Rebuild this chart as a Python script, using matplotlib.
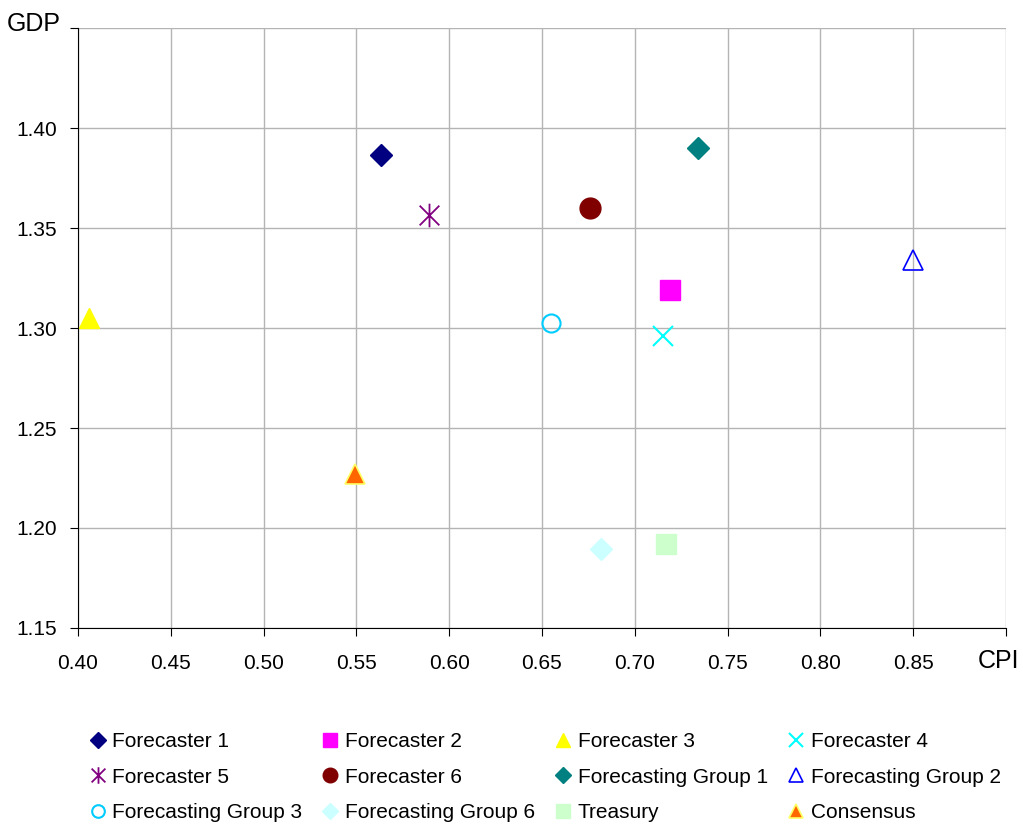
import matplotlib
matplotlib.use("Agg")
import matplotlib.pyplot as plt
from matplotlib.path import Path

plt.rcParams['font.family'] = ['Liberation Sans', 'DejaVu Sans']

names = ["Forecaster 1", "Forecaster 2", "Forecaster 3", "Forecaster 4",
         "Forecaster 5", "Forecaster 6", "Forecasting Group 1", "Forecasting Group 2",
         "Forecasting Group 3", "Forecasting Group 6", "Treasury", "Consensus"]
cpi = [0.563, 0.719, 0.406, 0.715, 0.589, 0.676, 0.734, 0.850, 0.655, 0.682, 0.717, 0.549]
gdp = [1.3865, 1.319, 1.305, 1.296, 1.3565, 1.360, 1.390, 1.334, 1.3025, 1.1895, 1.192, 1.227]

x_ticks = [0.40, 0.45, 0.50, 0.55, 0.60, 0.65, 0.70, 0.75, 0.80, 0.85, 0.90]
x_labels = ["0.40", "0.45", "0.50", "0.55", "0.60", "0.65", "0.70", "0.75", "0.80", "0.85", ""]
y_ticks = [1.15, 1.20, 1.25, 1.30, 1.35, 1.40, 1.45]
y_labels = ["1.15", "1.20", "1.25", "1.30", "1.35", "1.40", ""]
x_name = "CPI"
y_name = "GDP"

# asterisk: X plus vertical bar
star = Path([(-1, -1), (1, 1), (-1, 1), (1, -1), (0, -1.2), (0, 1.2)],
            [Path.MOVETO, Path.LINETO, Path.MOVETO, Path.LINETO, Path.MOVETO, Path.LINETO])

styles = [
    dict(marker='D', ms=11, mfc='#000080', mec='#000080'),
    dict(marker='s', ms=14, mfc='#FF00FF', mec='#FF00FF'),
    dict(marker='^', ms=15, mfc='#FFFF00', mec='#FFFF00'),
    dict(marker='x', ms=15, mfc='#00FFFF', mec='#00FFFF', mew=1.5),
    dict(marker=star, ms=17, mfc='none', mec='#800080', mew=1.3),
    dict(marker='o', ms=15, mfc='#800000', mec='#800000'),
    dict(marker='D', ms=11, mfc='#008080', mec='#008080'),
    dict(marker='^', ms=15, mfc='none', mec='#0000FF', mew=1.2),
    dict(marker='o', ms=13, mfc='none', mec='#00CCFF', mew=1.5),
    dict(marker='D', ms=11, mfc='#CCFFFF', mec='#CCFFFF'),
    dict(marker='s', ms=14, mfc='#CCFFCC', mec='#CCFFCC'),
    dict(marker='^', ms=14, mfc='#FF6600', mec='#FFFF66', mew=1.2),
]

fig = plt.figure(figsize=(10.23, 8.25), dpi=100)
ax = fig.add_axes([0.0762, 0.2388, 0.9072, 0.7272])

handles = []
for n, x, y, st in zip(names, cpi, gdp, styles):
    h, = ax.plot([x], [y], linestyle='none', label=n, clip_on=False, **st)
    handles.append(h)

ax.set_xlim(0.40, 0.90)
ax.set_ylim(1.15, 1.45)
ax.set_xticks(x_ticks)
ax.set_xticklabels(x_labels)
ax.set_yticks(y_ticks)
ax.set_yticklabels(y_labels)
ax.tick_params(direction='out', length=6, labelsize=15, color='black')
ax.tick_params(axis='x', pad=13)
ax.tick_params(axis='y', pad=9)
ax.grid(True, color='#b4b4b4', linewidth=1)
ax.set_axisbelow(True)
for s in ['top', 'right']:
    ax.spines[s].set_visible(False)
for s in ['left', 'bottom']:
    ax.spines[s].set_color('black')

fig.text(1019 / 1023, 1 - 661 / 825, x_name, ha='right', va='center', fontsize=18)
fig.text(61 / 1023, 1 - 24 / 825, y_name, ha='right', va='center', fontsize=18)

# legend fills column-wise; reorder so it reads row-wise
order = [0, 4, 8, 1, 5, 9, 2, 6, 10, 3, 7, 11]
fig.legend([handles[i] for i in order], [names[i] for i in order],
           loc='upper left', bbox_to_anchor=(0.075, 0.123), ncol=4, frameon=False,
           fontsize=15, markerscale=0.7, handletextpad=0.1, handlelength=1.2,
           columnspacing=0.75, labelspacing=0.8, borderaxespad=0)

fig.savefig("out.png", dpi=100)
